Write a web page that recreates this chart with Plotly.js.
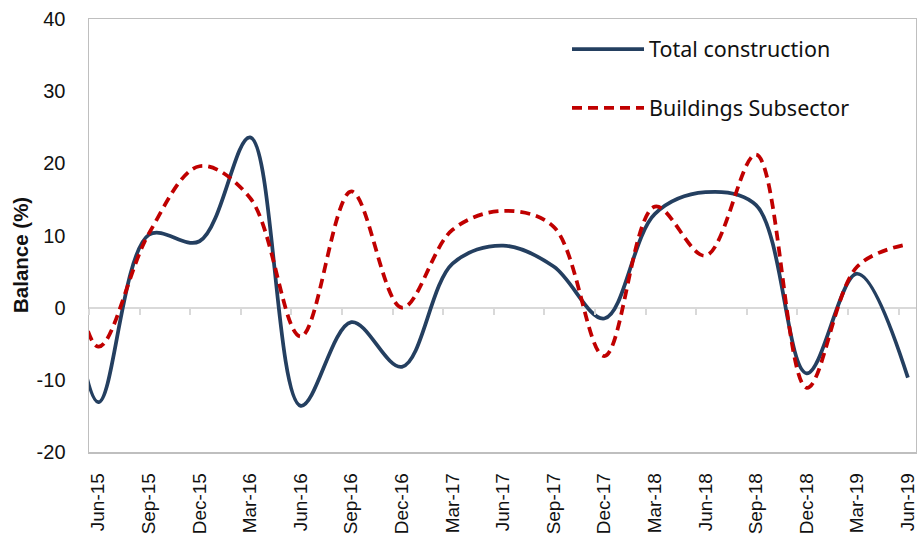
<!DOCTYPE html>
<html>
<head>
<meta charset="utf-8">
<script src="https://cdn.plot.ly/plotly-3.0.1.min.js"></script>
<style>
  html, body { margin: 0; padding: 0; background: #ffffff; }
  #chart { width: 917px; height: 535px; }
</style>
</head>
<body>
<div id="chart"></div>
<script>
// Quarterly periods; the first (Mar-15) lies just left of the visible axis and is clipped
const quarters = ['Mar-15','Jun-15','Sep-15','Dec-15','Mar-16','Jun-16','Sep-16','Dec-16','Mar-17',
                  'Jun-17','Sep-17','Dec-17','Mar-18','Jun-18','Sep-18','Dec-18','Mar-19','Jun-19'];
const totalConstruction = [38, -13.1, 10.1, 9.2, 23.6, -13.6, -2.0, -8.2, 6.1,
                           8.6, 5.7, -1.5, 13.0, 16.0, 14.2, -9.1, 4.7, -9.7];
const buildingsSubsector = [34, -5.4, 10.3, 19.6, 15.2, -4.0, 16.1, 0.0, 10.8,
                            13.4, 11.2, -6.7, 14.0, 7.2, 21.2, -11.1, 5.7, 8.8];
const shownLabels = quarters.slice(1);
const yTicks = [-20, -10, 0, 10, 20, 30, 40];
const yTickText = ['-20', '-10', '0', '10', '20', '30', '40'];

const xIdx = quarters.map((q, i) => i - 1);
const tickIdx = shownLabels.map((q, i) => i);
const yMin = yTicks[0], yMax = yTicks[yTicks.length - 1];
const xRange = [-0.184, 16.16];
const boundaryTicks = tickIdx.map(v => v - 0.184);

const FONT = 'Liberation Sans, Arial, sans-serif';
const LEGFONT = 'Noto Sans, Liberation Sans, sans-serif';

const traces = [
  {
    x: xIdx, y: totalConstruction, name: 'Total construction',
    type: 'scatter', mode: 'lines',
    line: { color: '#243f60', width: 3.75, shape: 'spline', smoothing: 1 },
    legendgroup: 'a', hoverinfo: 'skip'
  },
  {
    x: xIdx, y: buildingsSubsector, name: 'Buildings Subsector',
    type: 'scatter', mode: 'lines',
    line: { color: '#c00000', width: 3.75, shape: 'spline', smoothing: 1, dash: '10px,6px' },
    legendgroup: 'b', hoverinfo: 'skip'
  },
  { x: [], y: [], xaxis: 'x2', yaxis: 'y', showlegend: false, hoverinfo: 'skip', type: 'scatter', mode: 'lines' }
];

const layout = {
  width: 917, height: 535,
  margin: { l: 89, r: 1, t: 19, b: 83 },
  paper_bgcolor: '#ffffff', plot_bgcolor: '#ffffff',
  font: { family: FONT, size: 20, color: '#111111' },
  showlegend: true,
  legend: {
    x: 0.578, y: 0.978, xanchor: 'left', yanchor: 'top',
    bgcolor: 'rgba(0,0,0,0)', borderwidth: 0,
    font: { family: LEGFONT, size: 21.5, color: '#111111' },
    tracegroupgap: 28, itemwidth: 72
  },
  xaxis: {
    range: xRange, tickmode: 'array', tickvals: tickIdx, ticktext: shownLabels,
    tickangle: -90, ticks: '', showgrid: false, zeroline: false,
    showline: true, mirror: true, linecolor: '#bfbfbf', linewidth: 1.5,
    tickfont: { family: FONT, size: 19, color: '#111111' },
    ticklabelstandoff: 12, ticklabeloverflow: 'allow', fixedrange: true
  },
  xaxis2: {
    overlaying: 'x', anchor: 'free', position: (0 - yMin) / (yMax - yMin),
    range: xRange, tickmode: 'array', tickvals: boundaryTicks,
    ticks: 'outside', ticklen: 6, tickwidth: 2, tickcolor: '#d9d9d9',
    showticklabels: false, showgrid: false, zeroline: false, showline: false
  },
  yaxis: {
    range: [yMin, yMax], tickmode: 'array', tickvals: yTicks, ticktext: yTickText,
    ticks: '', showgrid: false,
    zeroline: true, zerolinecolor: '#d9d9d9', zerolinewidth: 2,
    showline: true, mirror: true, linecolor: '#bfbfbf', linewidth: 1.5,
    tickfont: { family: FONT, size: 20, color: '#111111' },
    ticklabelstandoff: 18, fixedrange: true
  },
  annotations: [
    {
      text: 'Balance (%)', textangle: -90, showarrow: false,
      xref: 'paper', yref: 'paper', x: -0.0822, y: 0.455,
      xanchor: 'center', yanchor: 'middle',
      font: { family: FONT, size: 20.5, color: '#111111', weight: 'bold' }
    }
  ]
};

Plotly.newPlot('chart', traces, layout, { displayModeBar: false, staticPlot: true });
</script>
</body>
</html>
